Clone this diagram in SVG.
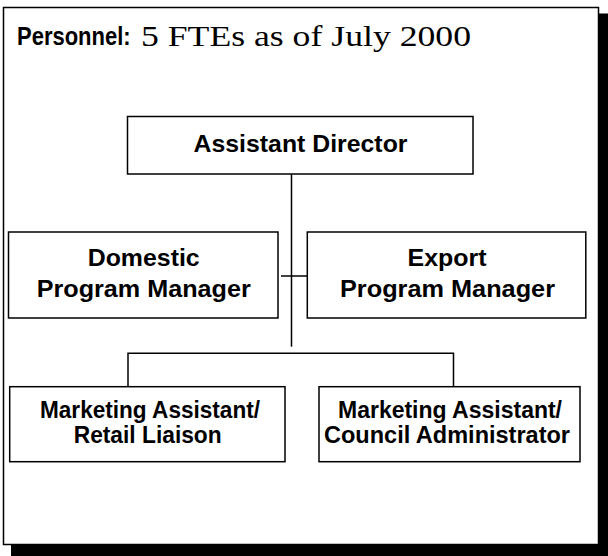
<svg xmlns="http://www.w3.org/2000/svg" width="608" height="556" viewBox="0 0 608 556">
  <style>
    .box { fill: #ffffff; stroke: #000000; stroke-width: 1.5; }
    .link { fill: none; stroke: #000000; stroke-width: 1.5; }
    .lbl { font-family: "Liberation Sans", Arial, Helvetica, sans-serif; font-weight: bold; fill: #000000; text-anchor: middle; }
    .hd { font-family: "Liberation Sans", Arial, Helvetica, sans-serif; font-weight: bold; font-size: 22px; fill: #000000; }
    .hs { font-family: "Liberation Serif", "Times New Roman", serif; font-size: 29.5px; fill: #000000; }
  </style>

  <!-- page panel with drop shadow -->
  <rect x="11" y="13.5" width="597" height="542.5" fill="#000000"/>
  <rect x="3.5" y="7.5" width="595" height="537" class="box"/>

  <!-- heading: tall condensed sans label followed by serif detail -->
  <text x="17" y="37.92" class="hd" transform="scale(1 1.2)">Personnel:</text>
  <text x="141" y="45.5" class="hs" textLength="330" lengthAdjust="spacingAndGlyphs">5 FTEs as of July 2000</text>

  <!-- connectors -->
  <g id="connectors">
    <line x1="291.5" y1="174" x2="291.5" y2="346.7" class="link"/>
    <line x1="281" y1="276" x2="310" y2="276" class="link"/>
    <polyline points="128,391.7 128,353.3 453.5,353.3 453.5,391.7" class="link"/>
  </g>

  <g id="assistant-director">
    <rect x="127.5" y="116.5" width="345.5" height="57.5" class="box"/>
    <text x="300.5" y="152.3" class="lbl" font-size="24.5" textLength="214" lengthAdjust="spacingAndGlyphs">Assistant Director</text>
  </g>

  <g id="domestic-pm">
    <rect x="8.5" y="232" width="269.5" height="86" class="box"/>
    <text x="143.7" y="265.7" class="lbl" font-size="24.5" textLength="112" lengthAdjust="spacingAndGlyphs">Domestic</text>
    <text x="143.7" y="297.3" class="lbl" font-size="24.5" textLength="214" lengthAdjust="spacingAndGlyphs">Program Manager</text>
  </g>

  <g id="export-pm">
    <rect x="307.3" y="232" width="278.5" height="86" class="box"/>
    <text x="447" y="265.7" class="lbl" font-size="24.5" textLength="79" lengthAdjust="spacingAndGlyphs">Export</text>
    <text x="447.5" y="297.3" class="lbl" font-size="24.5" textLength="215" lengthAdjust="spacingAndGlyphs">Program Manager</text>
  </g>

  <g id="retail-liaison">
    <rect x="9.7" y="386.7" width="275.3" height="75" class="box"/>
    <text x="150" y="417.7" class="lbl" font-size="23" textLength="220" lengthAdjust="spacingAndGlyphs">Marketing Assistant/</text>
    <text x="147.7" y="443" class="lbl" font-size="23" textLength="148" lengthAdjust="spacingAndGlyphs">Retail Liaison</text>
  </g>

  <g id="council-administrator">
    <rect x="319" y="386.7" width="261" height="75" class="box"/>
    <text x="450" y="417.7" class="lbl" font-size="23" textLength="224" lengthAdjust="spacingAndGlyphs">Marketing Assistant/</text>
    <text x="447" y="443" class="lbl" font-size="23" textLength="246" lengthAdjust="spacingAndGlyphs">Council Administrator</text>
  </g>
</svg>
